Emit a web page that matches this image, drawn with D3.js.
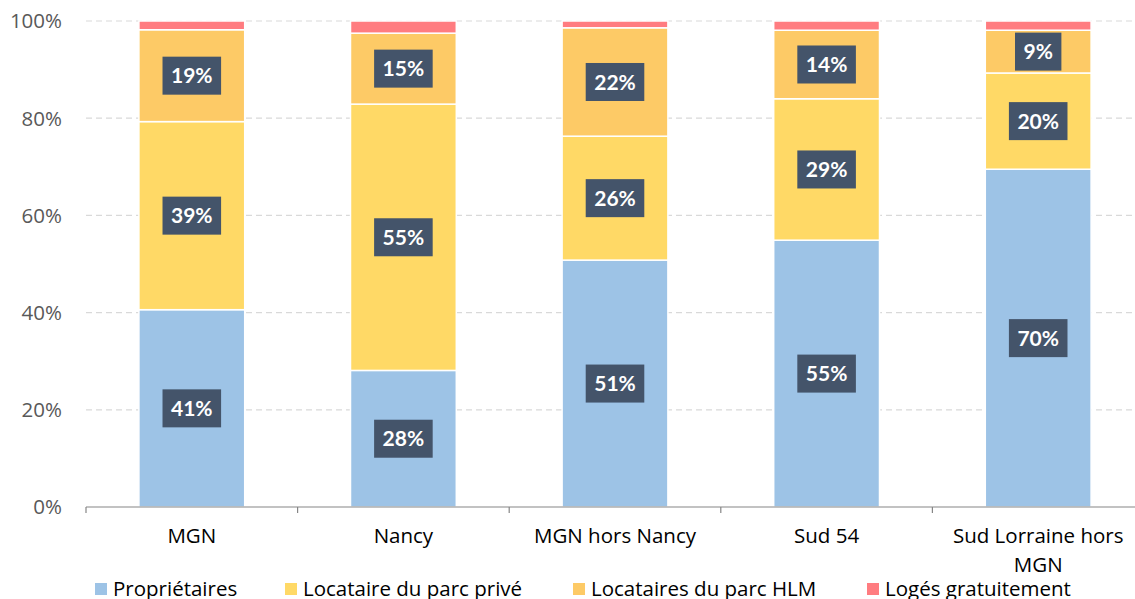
<!DOCTYPE html>
<html>
<head>
<meta charset="utf-8">
<script src="https://cdn.jsdelivr.net/npm/d3@7"></script>
<style>
  body { margin: 0; background: #fff; }
  svg { display: block; font-family: "Open Sans", Lato, sans-serif; }
</style>
</head>
<body>
<svg id="chart" width="1135" height="599"></svg>
<script>
const categories = ["MGN", "Nancy", "MGN hors Nancy", "Sud 54", "Sud Lorraine hors MGN"];
const seriesNames = ["Propriétaires", "Locataire du parc privé", "Locataires du parc HLM", "Logés gratuitement"];
const proprietaires = [40.6, 28.1, 50.8, 54.9, 69.5];
const locPrive      = [38.7, 54.8, 25.5, 29.1, 19.8];
const locHLM        = [18.9, 14.6, 22.3, 14.1, 8.8];
const logesGratuit  = [1.8, 2.5, 1.4, 1.9, 1.9];
const yTicks = [0, 20, 40, 60, 80, 100];
const colors = ["#9DC3E6", "#FFD966", "#FDCA66", "#FF7C80"];
const labelled = [true, true, true, false];

const svg = d3.select("#chart");
const margin = { left: 86, right: -9, top: 21, bottom: 92 };
const W = 1135, H = 599;
const fs = 20.5;

const x = d3.scaleBand().domain(categories).range([margin.left, W - margin.right]).paddingInner(0.5).paddingOuter(0.25);
const y = d3.scaleLinear().domain([0, 100]).range([H - margin.bottom, margin.top]);

// gridlines
svg.append("g").selectAll("line").data(yTicks.filter(d => d > 0)).join("line")
  .attr("x1", margin.left).attr("x2", W)
  .attr("y1", d => y(d)).attr("y2", d => y(d))
  .attr("stroke", "#D9D9D9").attr("stroke-width", 1.2).attr("stroke-dasharray", "6,4");

// y tick labels
svg.append("g").selectAll("text").data(yTicks).join("text")
  .attr("x", 62).attr("y", d => y(d)).attr("dy", "0.36em")
  .attr("text-anchor", "end").attr("fill", "#595959").attr("font-size", fs)
  .text(d => d + "%");

// stacked data
const rows = categories.map((c, i) => ({
  cat: c,
  s0: proprietaires[i], s1: locPrive[i], s2: locHLM[i], s3: logesGratuit[i]
}));
const stack = d3.stack().keys(["s0", "s1", "s2", "s3"]);
const layers = stack(rows);

const gBars = svg.append("g");
layers.forEach((layer, li) => {
  gBars.append("g").selectAll("rect").data(layer).join("rect")
    .attr("x", d => x(d.data.cat))
    .attr("width", x.bandwidth())
    .attr("y", d => y(d[1]))
    .attr("height", d => y(d[0]) - y(d[1]))
    .attr("fill", colors[li])
    .attr("stroke", "#fff").attr("stroke-width", 1.5);
});

// value labels
layers.forEach((layer, li) => {
  if (!labelled[li]) return;
  layer.forEach(d => {
    const v = d[1] - d[0];
    const txt = Math.round(v) + "%";
    const cx = x(d.data.cat) + x.bandwidth() / 2;
    const cy = (y(d[0]) + y(d[1])) / 2;
    const g = svg.append("g");
    const t = g.append("text")
      .attr("x", cx).attr("y", cy).attr("dy", "0.36em")
      .attr("text-anchor", "middle").attr("fill", "#fff")
      .attr("font-family", "Lato, sans-serif")
      .attr("font-size", 21).attr("font-weight", "bold").text(txt);
    const bb = t.node().getBBox();
    const padX = 8.5;
    g.insert("rect", "text")
      .attr("x", bb.x - padX).attr("width", bb.width + 2 * padX)
      .attr("y", cy - 19).attr("height", 38)
      .attr("fill", "#44546A");
  });
});

// x axis line and ticks
const axisY = y(0);
svg.append("line").attr("x1", margin.left).attr("x2", W).attr("y1", axisY).attr("y2", axisY)
  .attr("stroke", "#868686").attr("stroke-width", 1.2);
const step = x.step();
svg.append("g").selectAll("line").data(d3.range(categories.length + 1).map(i => margin.left + i * step)).join("line")
  .attr("x1", d => d).attr("x2", d => d).attr("y1", axisY).attr("y2", axisY + 6)
  .attr("stroke", "#868686").attr("stroke-width", 1.2);

// category labels
const catLines = { "Sud Lorraine hors MGN": ["Sud Lorraine hors", "MGN"] };
categories.forEach(c => {
  const lines = catLines[c] || [c];
  const t = svg.append("text")
    .attr("x", x(c) + x.bandwidth() / 2).attr("y", 543)
    .attr("text-anchor", "middle").attr("fill", "#000").attr("font-size", fs);
  lines.forEach((ln, i) => t.append("tspan").attr("x", x(c) + x.bandwidth() / 2).attr("dy", i === 0 ? 0 : 28.5).text(ln));
});

// legend
const legendX = [95, 285, 573, 867];
seriesNames.forEach((n, i) => {
  svg.append("rect").attr("x", legendX[i]).attr("y", 583).attr("width", 12).attr("height", 12).attr("fill", colors[i]);
  svg.append("text").attr("x", legendX[i] + 18).attr("y", 595.5)
    .attr("fill", "#000").attr("font-size", fs).text(n);
});
</script>
</body>
</html>
